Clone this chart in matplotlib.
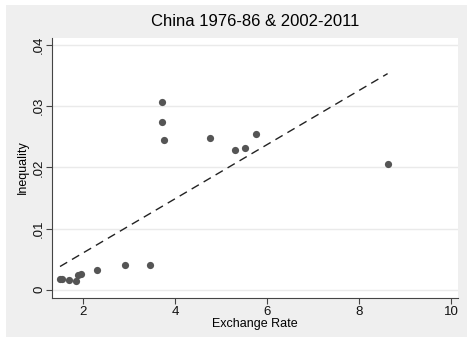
import numpy as np
import matplotlib.pyplot as plt
from matplotlib.patches import Rectangle

# exchange rate vs inequality, China 1976-86 & 2002-2011
exchange_rate = [1.50, 1.55, 1.69, 1.85, 1.89, 1.96, 2.30, 2.92, 3.45,
                 3.71, 3.75, 3.71, 4.77, 5.31, 5.51, 5.75, 8.62]
inequality = [0.00184, 0.0018, 0.0016, 0.00136, 0.00245, 0.0026, 0.00315,
              0.0040, 0.0040, 0.0274, 0.0245, 0.0306, 0.02475, 0.0229,
              0.0231, 0.0254, 0.0206]

# fitted line end points
fit_x = [1.50, 8.62]
fit_y = [0.0038, 0.0353]

x_ticks = [2, 4, 6, 8, 10]
y_ticks = [0, 0.01, 0.02, 0.03, 0.04]
y_tick_labels = ['0', '.01', '.02', '.03', '.04']

W, H = 467, 339
fig = plt.figure(figsize=(W / 100, H / 100), dpi=100)
fig.patch.set_facecolor('white')
fig.patches.append(Rectangle((6 / W, 2 / H), 1 - 6 / W, 1 - 7 / H,
                             transform=fig.transFigure, facecolor='#efefef',
                             edgecolor='none', zorder=-10))

ax = fig.add_axes([52 / W, 1 - 297.5 / H, (458 - 52) / W, (297.5 - 37.5) / H])
ax.set_facecolor('white')

ax.plot(fit_x, fit_y, color='#222222', linestyle=(0, (6, 4)), linewidth=1.0)
ax.plot(exchange_rate, inequality, 'o', color='#555555', markersize=5.2,
        markeredgewidth=0)

ax.set_xlim(1.326, 10.15)
ax.set_ylim(-0.00126, 0.0412)
ax.set_xticks(x_ticks)
ax.set_yticks(y_ticks)
ax.set_yticklabels(y_tick_labels, rotation=90, va='center')
ax.grid(axis='y', color='#eaeaea', linewidth=1.0)
ax.set_axisbelow(True)

for s in ['top', 'right']:
    ax.spines[s].set_visible(False)
for s in ['left', 'bottom']:
    ax.spines[s].set_color('#444444')
    ax.spines[s].set_linewidth(0.8)
ax.tick_params(length=4, width=0.8, color='#444444', labelsize=9.5,
               labelcolor='#111111')
ax.tick_params(axis='x', pad=2)
ax.tick_params(axis='y', pad=1)

font = 'Liberation Sans'
for lbl in ax.get_xticklabels() + ax.get_yticklabels():
    lbl.set_family(font)

ax.set_xlabel('Exchange Rate', fontsize=9, family=font, labelpad=0)
ax.set_ylabel('Inequality', fontsize=9, family=font, labelpad=3)
ax.set_title('China 1976-86 & 2002-2011', fontsize=12, family=font, pad=8)

fig.savefig('out.png', dpi=100)
